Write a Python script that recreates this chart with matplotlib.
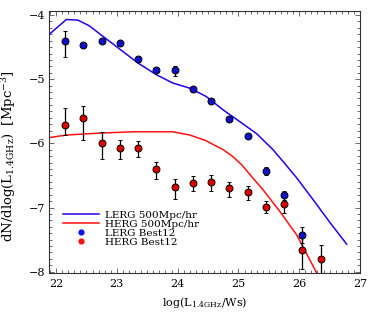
import matplotlib
matplotlib.use("Agg")
import matplotlib.pyplot as plt
from matplotlib.lines import Line2D
from matplotlib.ticker import MultipleLocator
import numpy as np

# model curves (500 Mpc/h box)
lerg_model_x = [21.89, 22.17, 22.36, 22.55, 22.74, 22.99, 23.35, 23.65, 23.92,
                24.20, 24.47, 24.75, 25.02, 25.30, 25.57, 25.74, 25.96, 26.23,
                26.51, 26.78]
lerg_model_y = [-4.30, -4.07, -4.08, -4.17, -4.31, -4.49, -4.75, -4.93, -5.06,
                -5.14, -5.27, -5.48, -5.66, -5.85, -6.10, -6.29, -6.54, -6.88,
                -7.24, -7.57]
herg_model_x = [21.89, 22.17, 22.72, 23.27, 23.92, 24.20, 24.47, 24.75, 24.90,
                25.05, 25.20, 25.41, 25.68, 25.96, 26.26, 26.32]
herg_model_y = [-5.91, -5.87, -5.84, -5.82, -5.82, -5.87, -5.96, -6.10, -6.20,
                -6.33, -6.50, -6.73, -7.06, -7.43, -7.97, -8.08]

# Best & Heckman 2012 points
lerg_x = [22.15, 22.45, 22.75, 23.05, 23.35, 23.65, 23.95, 24.25, 24.55,
          24.85, 25.15, 25.45, 25.75, 26.05]
lerg_y = [-4.40, -4.46, -4.40, -4.43, -4.68, -4.86, -4.86, -5.15, -5.34,
          -5.62, -5.88, -6.43, -6.81, -7.43]
lerg_err_up = [0.155, 0.03, 0.03, 0.03, 0.03, 0.03, 0.06, 0.03, 0.03,
               0.03, 0.03, 0.06, 0.07, 0.13]
lerg_err_lo = [0.26, 0.03, 0.03, 0.03, 0.03, 0.03, 0.09, 0.03, 0.03,
               0.03, 0.03, 0.07, 0.07, 0.13]

herg_x = [22.15, 22.45, 22.75, 23.05, 23.35, 23.65, 23.95, 24.25, 24.55,
          24.85, 25.15, 25.45, 25.75, 26.05, 26.35]
herg_y = [-5.71, -5.61, -5.99, -6.07, -6.07, -6.40, -6.68, -6.61, -6.60,
          -6.70, -6.76, -6.99, -6.95, -7.66, -7.80]
herg_err_up = [0.26, 0.19, 0.16, 0.12, 0.11, 0.11, 0.12, 0.10, 0.10,
               0.10, 0.10, 0.09, 0.12, 0.28, 0.21]
herg_err_lo = [0.16, 0.34, 0.26, 0.18, 0.15, 0.16, 0.18, 0.14, 0.14,
               0.13, 0.12, 0.10, 0.14, 0.29, 0.30]

plt.rcParams.update({
    "font.family": "DejaVu Serif",
    "mathtext.fontset": "dejavuserif",
    "mathtext.default": "regular",
    "font.size": 7.5,
})

fig = plt.figure(figsize=(3.74, 3.12), dpi=100)
ax = fig.add_axes([0.132, 0.125, 0.8307, 0.8407])

ax.plot(lerg_model_x, lerg_model_y, color="#2200ee", lw=1.1, zorder=2)
ax.plot(herg_model_x, herg_model_y, color="#ff1111", lw=1.1, zorder=2)

ax.errorbar(herg_x, herg_y, yerr=[herg_err_lo, herg_err_up], fmt="o",
            ms=5, mfc="#dd0000", mec="black", mew=0.7, ecolor="black",
            elinewidth=0.9, capsize=1.6, capthick=0.9, zorder=3)
ax.errorbar(lerg_x, lerg_y, yerr=[lerg_err_lo, lerg_err_up], fmt="o",
            ms=5, mfc="#1010cc", mec="black", mew=0.7, ecolor="black",
            elinewidth=0.9, capsize=1.6, capthick=0.9, zorder=4)

ax.set_xlim(21.89, 27.0)
ax.set_ylim(-8.02, -3.933)
ax.xaxis.set_major_locator(MultipleLocator(1))
ax.xaxis.set_minor_locator(MultipleLocator(0.1))
ax.yaxis.set_major_locator(MultipleLocator(1))
ax.yaxis.set_minor_locator(MultipleLocator(0.1))
ax.tick_params(which="both", direction="in", top=True, right=True,
               color="#555555", width=0.6, labelsize=8)
ax.tick_params(which="major", length=3.6)
ax.tick_params(which="minor", length=2)
ax.tick_params(axis="x", pad=4)
ax.tick_params(axis="y", pad=3)
for sp in ax.spines.values():
    sp.set_color("#333333")
    sp.set_linewidth(0.8)

ax.set_xlabel(r"log(L$_{1.4GHz}$/Ws)", fontsize=8)
ax.set_ylabel(r"dN/dlog(L$_{1.4GHz}$)  [Mpc$^{-3}$]", fontsize=9.5)
ax.xaxis.set_label_coords(0.5, -0.085)
ax.yaxis.set_label_coords(-0.1, 0.446)

handles = [
    Line2D([], [], color="#2200ee", lw=1.1),
    Line2D([], [], color="#ff1111", lw=1.1),
    Line2D([], [], ls="none", marker="o", ms=4.5, mfc="#1010ff", mec="none"),
    Line2D([], [], ls="none", marker="o", ms=4.5, mfc="#ff1111", mec="none"),
]
labels = ["LERG 500Mpc/hr", "HERG 500Mpc/hr", "LERG Best12", "HERG Best12"]
ax.legend(handles, labels, loc="lower left", bbox_to_anchor=(0.045, 0.1),
          frameon=False, fontsize=7.5, handlelength=3.4, handletextpad=0.6,
          labelspacing=-0.02, borderpad=0, borderaxespad=0)

fig.savefig("out.png", dpi=100)
